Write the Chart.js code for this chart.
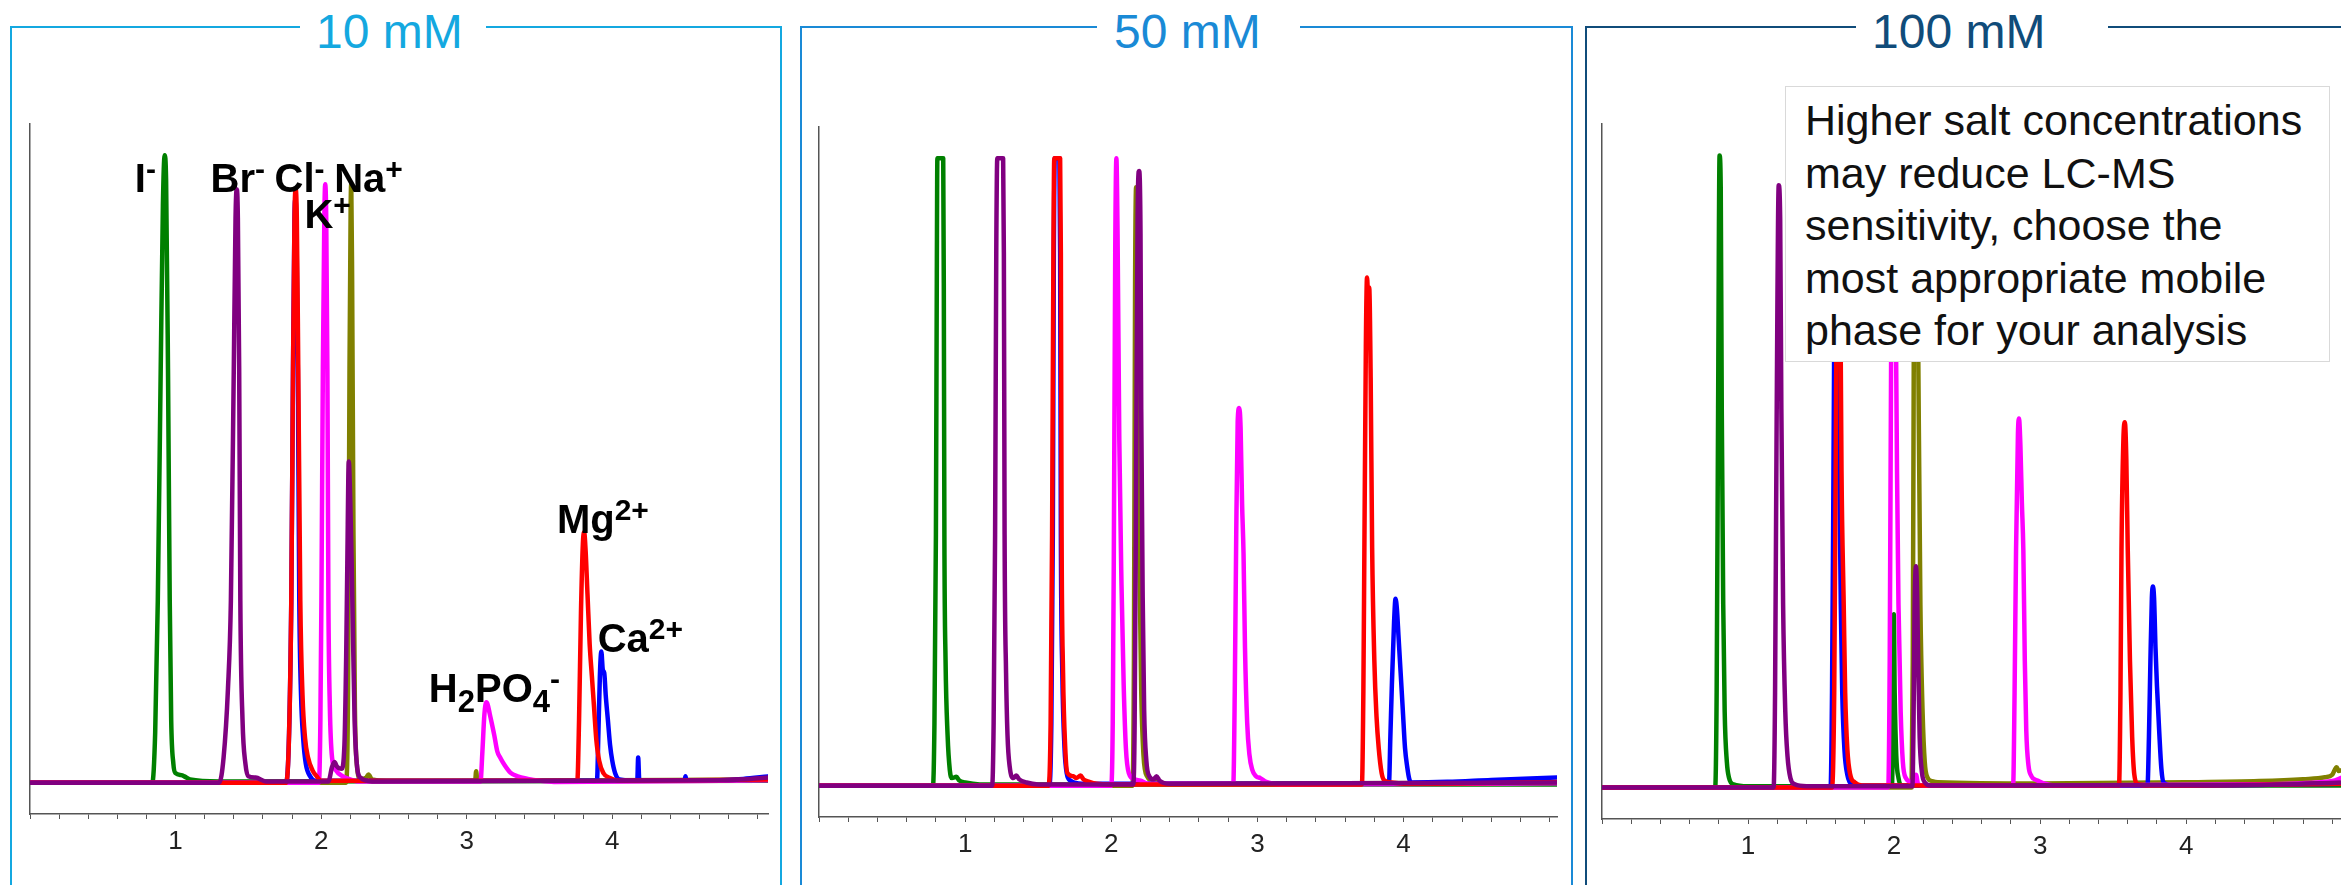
<!DOCTYPE html>
<html>
<head>
<meta charset="utf-8">
<script src="https://cdn.jsdelivr.net/npm/chart.js@4.4.0/dist/chart.umd.min.js"></script>
<style>
  html, body { margin: 0; padding: 0; background: #fff; width: 2341px; height: 885px; overflow: hidden;
               font-family: "Liberation Sans", Arial, Helvetica, sans-serif; }
  .frame { position: absolute; top: 26px; height: 900px; border: 2px solid; border-bottom: none; box-sizing: border-box; }
  .title { position: absolute; top: 8px; height: 48px; background: #fff; font-size: 48px; line-height: 48px;
           white-space: nowrap; box-sizing: border-box; }
  canvas { position: absolute; }
  .note { position: absolute; left: 1785px; top: 86px; width: 545px; height: 276px; box-sizing: border-box;
          border: 1.5px solid #d9d9d9; background: #fff; padding: 7px 0 0 19px; font-size: 43px; line-height: 52.5px;
          color: #111; white-space: nowrap; }
</style>
</head>
<body>
<div class="frame" style="left:10px;width:772px;border-color:#14A8E0"></div>
<div class="frame" style="left:800px;width:773px;border-color:#1A8AD6"></div>
<div class="frame" style="left:1585px;width:800px;border-color:#104C7A"></div>
<div class="title" id="t1" style="left:300px;width:186px;padding-left:16px;color:#14A8E0"></div>
<div class="title" id="t2" style="left:1097px;width:203px;padding-left:17px;color:#1A8AD6"></div>
<div class="title" id="t3" style="left:1856px;width:252px;padding-left:16px;color:#104C7A"></div>
<canvas id="c1"></canvas>
<canvas id="c2"></canvas>
<canvas id="c3"></canvas>
<div class="note">Higher salt concentrations<br>may reduce LC-MS<br>sensitivity, choose the<br>most appropriate mobile<br>phase for your analysis</div>
<script>
// Panel titles (salt concentration of the mobile phase)
const panelTitles = ['10 mM', '50 mM', '100 mM'];

// Retention-time axis labels (min)
const tickValues = [1, 2, 3, 4];
const tickLabels = ['1', '2', '3', '4'];

// ---- 10 mM traces: [retention time, relative response] ----
const p10_purple = [[0,0],[1.30,0],[1.33,4],[1.36,15],[1.38,29],[1.40,66],[1.412,90],[1.42,94.6],[1.428,90],[1.437,66],[1.445,29],[1.46,10],[1.48,3],[1.50,1],[1.55,0.8],[1.62,0.2],
  [2.05,0.2],[2.075,2.5],[2.092,3.3],[2.108,2.6],[2.14,2.2],[2.16,6],[2.172,20],[2.18,35],[2.19,51.2],[2.2,45],[2.21,35],[2.22,22],[2.23,10],[2.245,3],[2.27,0.8],[2.35,0.2],[4.8,0.4],[5.07,0.8]];
const p10_red = [[0,0],[1.76,0],[1.78,8],[1.795,29],[1.807,66],[1.817,90],[1.825,94.6],[1.833,90],[1.843,66],[1.857,29],[1.872,14],[1.89,7],[1.91,4],[1.94,2],[1.97,1],[2.0,0.3],
  [3.76,0.3],[3.772,10],[3.785,27],[3.798,38],[3.807,39.9],[3.817,37],[3.83,30],[3.845,22],[3.86,17],[3.875,12],[3.89,7],[3.91,3.5],[3.94,1.5],[3.98,0.8],[4.05,0.3],[5.07,0.5]];
const p10_magenta = [[0,0],[1.985,0],[1.995,10],[2.002,29],[2.012,66],[2.022,90],[2.028,95.4],[2.035,90],[2.043,66],[2.05,29],[2.06,12],[2.075,4],[2.1,2],[2.15,1],[2.2,0.5],[2.25,0.2],
  [3.095,0.2],[3.108,5],[3.122,11],[3.135,12.8],[3.145,12.4],[3.158,11],[3.172,9.5],[3.19,7.5],[3.21,5],[3.23,4],[3.26,2.8],[3.3,1.6],[3.35,1],[3.42,0.6],[3.5,0.3],[3.6,0.1],[5.07,0.4]];
const p10_blue = [[0,0],[1.76,0],[1.78,8],[1.795,29],[1.807,66],[1.817,90],[1.823,93],[1.831,88],[1.84,66],[1.85,29],[1.862,14],[1.877,7],[1.895,3],[1.925,1],[1.96,0.3],
  [3.895,0.3],[3.905,8],[3.915,17],[3.925,20.9],[3.935,18],[3.945,17.5],[3.955,14],[3.97,10],[3.985,6],[4.0,3.5],[4.02,1.5],[4.05,0.5],[4.172,0.3],[4.178,4],[4.186,0.3],[4.497,0.3],[4.503,1],[4.51,0.3],[4.9,0.6],[5.07,1.0]];
const p10_olive = [[0,0],[2.17,0],[2.185,15],[2.195,66],[2.203,92],[2.207,95.4],[2.213,80],[2.222,40],[2.232,12],[2.245,3],[2.27,0.6],[2.31,0.8],[2.325,1.3],[2.35,0.5],[2.45,0.3],
  [3.058,0.3],[3.065,1.8],[3.073,0.3],[5.07,0.5]];
const p10_green = [[0,0],[0.84,0],[0.86,8],[0.878,29],[0.898,66],[0.913,92],[0.925,100],[0.935,96],[0.948,66],[0.96,29],[0.97,10],[0.985,3],[1.0,1.5],[1.04,1.2],[1.06,1],[1.1,0.5],[1.3,0.2],[5.07,0.3]];

// ---- 50 mM traces ----
const p50_purple = [[0,0],[1.185,0],[1.195,10],[1.205,40],[1.213,85],[1.22,100],[1.26,100],[1.265,85],[1.27,40],[1.28,18],[1.29,8],[1.305,3],[1.33,1.2],[1.35,1.6],[1.37,1],[1.42,0.5],[1.5,0.2],
  [2.15,0.2],[2.16,10],[2.17,50],[2.18,90],[2.19,98],[2.2,88],[2.205,60],[2.215,30],[2.225,12],[2.24,4],[2.26,1.5],[2.29,1],[2.31,1.5],[2.33,0.8],[2.4,0.3],[5.07,0.5]];
const p50_red = [[0,0],[1.57,0],[1.585,10],[1.595,40],[1.604,85],[1.61,100],[1.65,100],[1.655,85],[1.66,40],[1.67,18],[1.685,6],[1.70,2],[1.74,1.5],[1.76,1.2],[1.79,1.6],[1.81,1],[1.85,0.6],[1.9,0.3],[2.0,0.2],
  [3.715,0.2],[3.725,15],[3.732,38],[3.742,70],[3.75,81],[3.758,78],[3.765,79.4],[3.775,65],[3.785,38],[3.80,20],[3.815,11],[3.83,6],[3.85,2],[3.87,0.8],[3.92,0.5],[4.0,0.3],[5.07,0.6]];
const p50_magenta = [[0,0],[2.0,0],[2.01,10],[2.017,35],[2.027,85],[2.035,100],[2.043,88],[2.055,55],[2.07,32],[2.085,16],[2.1,6],[2.12,2],[2.16,1],[2.2,0.8],[2.25,0.3],
  [2.835,0.3],[2.845,15],[2.855,40],[2.865,58],[2.875,60.2],[2.885,57],[2.895,45],[2.905,37],[2.915,22],[2.93,10],[2.945,5],[2.965,2.5],[2.99,1.5],[3.02,1.2],[3.06,0.6],[3.15,0.2],[5.07,0.4]];
const p50_blue = [[0,0],[1.575,0],[1.59,10],[1.60,40],[1.607,85],[1.613,100],[1.645,100],[1.65,85],[1.655,40],[1.665,18],[1.68,6],[1.695,2],[1.72,0.8],[1.8,0.3],
  [3.90,0.3],[3.91,8],[3.92,16],[3.935,26],[3.945,29.8],[3.955,28],[3.965,24],[3.98,18],[3.995,12],[4.01,6],[4.025,3],[4.04,1],[4.06,0.5],[4.3,0.6],[4.6,0.9],[5.07,1.3]];
const p50_olive = [[0,0],[2.145,0],[2.155,20],[2.163,80],[2.17,95.4],[2.178,80],[2.19,40],[2.205,15],[2.22,5],[2.245,1.5],[2.3,0.6],[2.4,0.3],[5.07,0.5]];
const p50_green = [[0,0],[0.78,0],[0.79,10],[0.80,40],[0.806,80],[0.81,100],[0.85,100],[0.854,80],[0.858,40],[0.866,20],[0.88,8],[0.895,2.5],[0.91,1.2],[0.94,1.4],[0.96,0.8],[1.0,0.5],[1.1,0.2],[5.07,0.2]];

// ---- 100 mM traces ----
const p100_purple = [[0,0],[1.175,0],[1.185,15],[1.195,55],[1.21,95.3],[1.22,90],[1.228,60],[1.24,29],[1.255,12],[1.27,5],[1.29,1.5],[1.32,0.5],[1.4,0.2],
  [2.125,0.2],[2.133,10],[2.14,28],[2.15,35],[2.158,30],[2.165,20],[2.175,8],[2.19,2.5],[2.21,0.8],[2.25,0.3],[4.5,0.4],[5.07,0.8]];
const p100_red = [[0,0],[1.575,0],[1.59,15],[1.60,50],[1.61,90],[1.615,100],[1.625,100],[1.63,85],[1.64,50],[1.655,29],[1.665,15],[1.68,6],[1.70,2],[1.73,0.8],[1.78,0.3],
  [3.54,0.3],[3.55,15],[3.557,37.5],[3.57,55],[3.58,57.8],[3.59,52],[3.60,37.5],[3.615,20],[3.63,8],[3.645,2],[3.67,0.5],[3.75,0.3],[5.07,0.6]];
const p100_magenta = [[0,0],[1.96,0],[1.97,20],[1.98,70],[1.99,100],[2.0,100],[2.01,80],[2.02,50],[2.03,29],[2.045,12],[2.06,4],[2.08,1.5],[2.12,0.8],[2.14,0.6],[2.15,2],[2.165,0.5],[2.2,0.3],
  [2.815,0.3],[2.825,15],[2.835,37.5],[2.848,56],[2.855,58.4],[2.865,54],[2.875,45],[2.885,37.5],[2.895,20],[2.905,9],[2.92,3.5],[2.94,1.8],[2.97,1.2],[2.99,1],[3.03,0.6],[3.1,0.3],[4.5,0.5],[5.0,1.0],[5.07,1.6]];
const p100_blue = [[0,0],[1.565,0],[1.575,15],[1.585,50],[1.595,90],[1.60,100],[1.61,100],[1.615,85],[1.625,50],[1.635,29],[1.645,15],[1.66,6],[1.68,2],[1.71,0.5],[1.76,0.3],
  [3.735,0.3],[3.745,8],[3.755,20],[3.765,30],[3.772,31.8],[3.78,30],[3.79,22],[3.80,16],[3.815,9],[3.83,3],[3.845,0.8],[3.9,0.3],[5.07,0.6]];
const p100_olive = [[0,0],[2.12,0],[2.128,20],[2.135,70],[2.145,100],[2.155,100],[2.165,70],[2.18,29],[2.195,12],[2.21,4],[2.23,1.5],[2.26,1],[2.3,0.8],[3.0,0.6],[4.0,0.8],[4.5,1.0],[4.8,1.3],[4.95,1.6],[5.0,2.0],[5.03,3.2],[5.045,2.6],[5.07,2.8]];
const p100_green = [[0,0],[0.775,0],[0.785,15],[0.795,60],[0.805,100],[0.813,95],[0.82,60],[0.83,29],[0.84,12],[0.855,4],[0.87,1.5],[0.9,0.5],[1.0,0.2],
  [1.985,0.2],[1.992,10],[1.998,27.4],[2.004,15],[2.015,5],[2.03,1.5],[2.05,0.3],[5.07,0.3]];

// Peak annotations for the 10 mM run: [text, 'sup' | 'sub' | ''] pieces anchored at (time, response)
const ionLabels = [
  { parts: [['I', ''], ['-', 'sup']], x: 0.72, y: 94.2 },
  { parts: [['Br', ''], ['-', 'sup']], x: 1.24, y: 94.2 },
  { parts: [['Cl', ''], ['-', 'sup']], x: 1.68, y: 94.2 },
  { parts: [['Na', ''], ['+', 'sup']], x: 2.09, y: 94.2 },
  { parts: [['K', ''], ['+', 'sup']], x: 1.885, y: 88.5 },
  { parts: [['Mg', ''], ['2+', 'sup']], x: 3.62, y: 39.8 },
  { parts: [['Ca', ''], ['2+', 'sup']], x: 3.90, y: 20.8 },
  { parts: [['H', ''], ['2', 'sub'], ['PO', ''], ['4', 'sub'], ['-', 'sup']], x: 2.74, y: 12.9 }
];

const COLORS = { purple: '#800080', red: '#FF0000', magenta: '#FF00FF', blue: '#0000FF', olive: '#808000', green: '#008000' };
const FONT = '"Liberation Sans", Arial, Helvetica, sans-serif';

document.getElementById('t1').textContent = panelTitles[0];
document.getElementById('t2').textContent = panelTitles[1];
document.getElementById('t3').textContent = panelTitles[2];

const ionLabelPlugin = {
  id: 'ionLabels',
  afterDatasetsDraw(chart, args, opts) {
    const items = opts.items || [];
    if (!items.length) return;
    const { ctx, scales: { x, y } } = chart;
    ctx.save();
    ctx.fillStyle = '#000';
    ctx.textBaseline = 'alphabetic';
    ctx.textAlign = 'left';
    items.forEach(item => {
      let px = x.getPixelForValue(item.x);
      const py = y.getPixelForValue(item.y);
      item.parts.forEach(([txt, kind]) => {
        const size = kind === 'sup' ? 30 : kind === 'sub' ? 31 : 40;
        const dy = kind === 'sup' ? -13 : kind === 'sub' ? 10 : 0;
        ctx.font = 'bold ' + size + 'px ' + FONT;
        ctx.fillText(txt, px, py + dy);
        px += ctx.measureText(txt).width;
      });
    });
    ctx.restore();
  }
};

function buildChart(id, geo, traces, labels) {
  const cv = document.getElementById(id);
  const padL = 10, padT = 16, padR = geo.right >= 2341 ? 0 : 10, axisH = 56;
  const w = geo.right - geo.left + padL + padR;
  const h = geo.bottom - geo.top + padT + axisH;
  cv.width = w; cv.height = h;
  cv.style.width = w + 'px'; cv.style.height = h + 'px';
  cv.style.left = (geo.left - padL) + 'px';
  cv.style.top = (geo.top - padT) + 'px';

  const datasets = traces.map(([pts, col]) => ({
    data: pts.map(([x, y]) => ({ x, y })),
    borderColor: COLORS[col],
    borderWidth: 4.5,
    pointRadius: 0,
    fill: false,
    cubicInterpolationMode: 'monotone',
    borderJoinStyle: 'round',
    borderCapStyle: 'round'
  }));

  return new Chart(cv, {
    type: 'line',
    data: { datasets },
    plugins: [ionLabelPlugin],
    options: {
      responsive: false,
      animation: false,
      events: [],
      layout: { padding: { left: padL, top: padT, right: padR, bottom: 0 } },
      plugins: { legend: { display: false }, tooltip: { enabled: false }, ionLabels: { items: labels } },
      scales: {
        x: {
          type: 'linear', min: 0, max: geo.xMax,
          afterFit: s => { s.height = axisH; },
          border: { display: true, color: '#555', width: 1.5 },
          grid: { display: true, drawOnChartArea: false, drawTicks: true, tickLength: 5, color: '#555', lineWidth: 1 },
          ticks: {
            stepSize: 0.2, autoSkip: false, maxRotation: 0, includeBounds: false, padding: 7,
            color: '#222', font: { family: FONT, size: 26 },
            callback: v => {
              const i = tickValues.findIndex(t => Math.abs(t - v) < 1e-6);
              return i >= 0 ? tickLabels[i] : '';
            }
          }
        },
        y: {
          type: 'linear', min: -5, max: 105,
          afterFit: s => { s.width = 0; },
          border: { display: true, color: '#555', width: 1.5 },
          grid: { display: false },
          ticks: { display: false }
        }
      }
    }
  });
}

// first dataset is painted on top
buildChart('c1', { left: 30, top: 124, right: 768, bottom: 814, xMax: 5.07 }, [
  [p10_purple, 'purple'], [p10_red, 'red'], [p10_magenta, 'magenta'], [p10_blue, 'blue'], [p10_olive, 'olive'], [p10_green, 'green']
], ionLabels);
buildChart('c2', { left: 819, top: 127, right: 1557, bottom: 817, xMax: 5.05 }, [
  [p50_purple, 'purple'], [p50_red, 'red'], [p50_magenta, 'magenta'], [p50_blue, 'blue'], [p50_olive, 'olive'], [p50_green, 'green']
], []);
buildChart('c3', { left: 1602, top: 124, right: 2341, bottom: 819, xMax: 5.06 }, [
  [p100_purple, 'purple'], [p100_red, 'red'], [p100_magenta, 'magenta'], [p100_blue, 'blue'], [p100_olive, 'olive'], [p100_green, 'green']
], []);
</script>
</body>
</html>
